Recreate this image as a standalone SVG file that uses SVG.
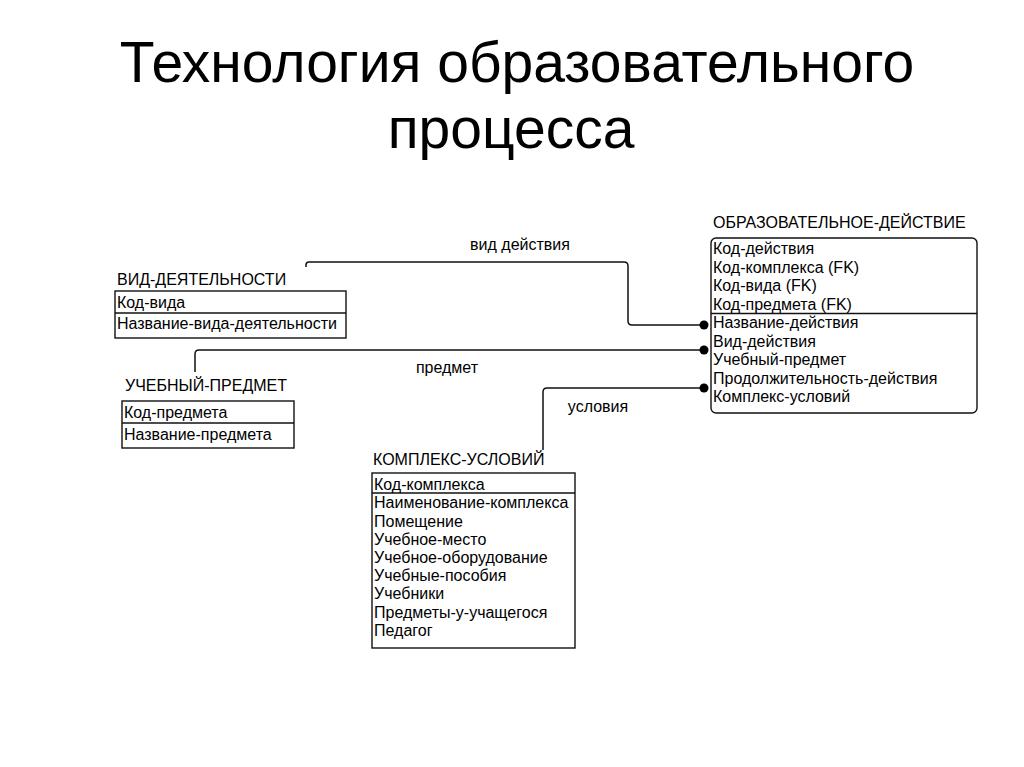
<svg xmlns="http://www.w3.org/2000/svg" width="1024" height="767" viewBox="0 0 1024 767">
<style>
.t{font-family:"Liberation Sans",Arial,sans-serif;fill:#000}
.h{font-size:57px}
.s{font-size:16px}
.box{fill:#fff;stroke:#111;stroke-width:1.4}
.div{stroke:#111;stroke-width:1.4}
.c{fill:none;stroke:#111;stroke-width:1.5}
.dot{fill:#000}
</style>
<rect width="1024" height="767" fill="#fff"/>
<g id="title">
<text class="t h" x="517" y="82" text-anchor="middle">Технология образовательного</text>
<text class="t h" x="511" y="148" text-anchor="middle">процесса</text>
</g>
<g id="connectors">
<path class="c" d="M306,267 L306,265 Q306,262 309,262 L624,262 Q628,262 628,266 L628,321 Q628,325 632,325 L704,325"/>
<circle class="dot" cx="704" cy="325" r="4.5"/>
<text class="t s" x="520" y="250" text-anchor="middle">вид действия</text>
<path class="c" d="M704,350 L199,350 Q195,350 195,354 L195,372"/>
<circle class="dot" cx="704" cy="350" r="4.5"/>
<text class="t s" x="447" y="373" text-anchor="middle">предмет</text>
<path class="c" d="M704,388 L547,388 Q543,388 543,392 L543,450"/>
<circle class="dot" cx="704" cy="388" r="4.5"/>
<text class="t s" x="598" y="412" text-anchor="middle">условия</text>
</g>
<g id="obrazovatelnoe-deystvie">
<text class="t s" x="713" y="228">ОБРАЗОВАТЕЛЬНОЕ-ДЕЙСТВИЕ</text>
<rect class="box" x="711" y="238" width="266" height="175" rx="5"/>
<line class="div" x1="711" y1="313.5" x2="977" y2="313.5"/>
<text class="t s" x="713" y="254">Код-действия</text>
<text class="t s" x="713" y="272.5">Код-комплекса (FK)</text>
<text class="t s" x="713" y="291">Код-вида (FK)</text>
<text class="t s" x="713" y="309.5">Код-предмета (FK)</text>
<text class="t s" x="713" y="328">Название-действия</text>
<text class="t s" x="713" y="346.5">Вид-действия</text>
<text class="t s" x="713" y="365">Учебный-предмет</text>
<text class="t s" x="713" y="383.5">Продолжительность-действия</text>
<text class="t s" x="713" y="402">Комплекс-условий</text>
</g>
<g id="vid-deyatelnosti">
<text class="t s" x="117" y="285">ВИД-ДЕЯТЕЛЬНОСТИ</text>
<rect class="box" x="115" y="291" width="231" height="47"/>
<line class="div" x1="115" y1="313" x2="346" y2="313"/>
<text class="t s" x="117" y="308">Код-вида</text>
<text class="t s" x="117" y="329">Название-вида-деятельности</text>
</g>
<g id="uchebny-predmet">
<text class="t s" x="125" y="391">УЧЕБНЫЙ-ПРЕДМЕТ</text>
<rect class="box" x="122" y="401" width="172" height="47"/>
<line class="div" x1="122" y1="423" x2="294" y2="423"/>
<text class="t s" x="124" y="418">Код-предмета</text>
<text class="t s" x="124" y="440">Название-предмета</text>
</g>
<g id="kompleks-usloviy">
<text class="t s" x="373" y="465">КОМПЛЕКС-УСЛОВИЙ</text>
<rect class="box" x="372" y="473" width="203" height="175"/>
<line class="div" x1="372" y1="493" x2="575" y2="493"/>
<text class="t s" x="374" y="490">Код-комплекса</text>
<text class="t s" x="374" y="508">Наименование-комплекса</text>
<text class="t s" x="374" y="526.5">Помещение</text>
<text class="t s" x="374" y="545">Учебное-место</text>
<text class="t s" x="374" y="563">Учебное-оборудование</text>
<text class="t s" x="374" y="581">Учебные-пособия</text>
<text class="t s" x="374" y="599">Учебники</text>
<text class="t s" x="374" y="617.5">Предметы-у-учащегося</text>
<text class="t s" x="374" y="636">Педагог</text>
</g>
</svg>
